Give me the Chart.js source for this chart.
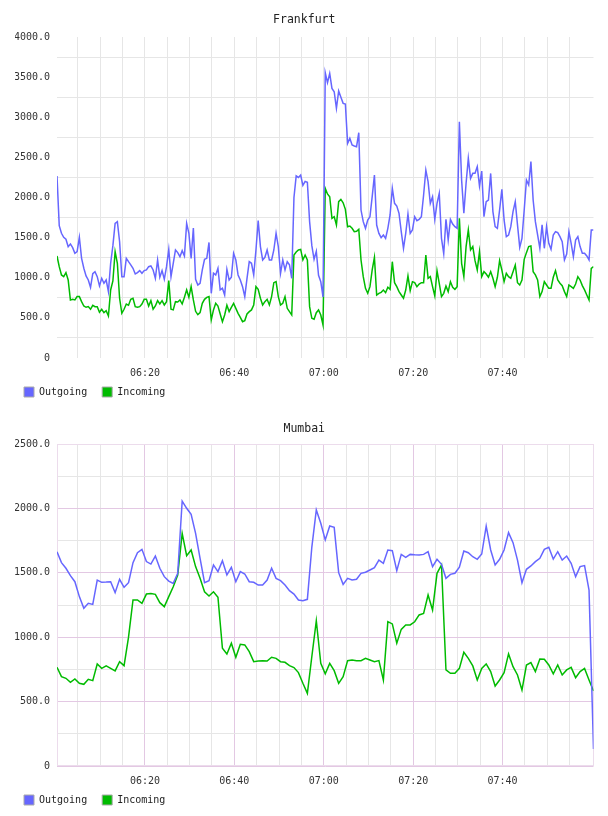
<!DOCTYPE html>
<html lang="en">
<head>
<meta charset="UTF-8">
<title>Frankfurt / Mumbai traffic</title>
<script src="https://cdn.jsdelivr.net/npm/chart.js@4.4.1/dist/chart.umd.min.js"></script>
<style>
  html, body { margin: 0; padding: 0; background: #fff; }
  #wrap { position: relative; width: 608px; height: 816px; }
  canvas { position: absolute; left: 0; }
</style>
</head>
<body>
<div id="wrap">
  <canvas id="frankfurt" width="608" height="409" style="top:0"></canvas>
  <canvas id="mumbai" width="608" height="408" style="top:408px"></canvas>
</div>
<script>
// time axis, minutes after midnight
const startMinute = 360 + 20 / 60;   // 06:00:20
const endMinute = 480 + 20 / 60;     // 08:00:20
const gridMinutes = [365, 370, 375, 380, 385, 390, 395, 400, 405, 410, 415, 420,
  425, 430, 435, 440, 445, 450, 455, 460, 465, 470, 475];
const labelMinutes = [380, 400, 420, 440, 460];
const tickLabels = ['06:20', '06:40', '07:00', '07:20', '07:40'];

// Frankfurt, one sample every 30 s
const frankfurtOutgoing = [
  2268, 1650, 1554, 1504, 1480, 1388, 1421, 1375, 1305, 1325, 1504, 1242, 1118, 1022, 972, 880,
  1050, 1076, 1014, 898, 993, 931, 972, 827, 1180, 1400, 1678, 1700, 1450, 1014, 1014, 1242,
  1200, 1160, 1118, 1047, 1064, 1089, 1056, 1089, 1097, 1138, 1147, 1097, 993, 1222, 1006, 1089,
  981, 1138, 1354, 1014, 1180, 1346, 1313, 1263, 1338, 1271, 1678, 1554, 1242, 1620, 981, 910,
  931, 1097, 1230, 1242, 1440, 806, 1056, 1035, 1118, 848, 869, 785, 1105, 972, 1006, 1305,
  1222, 1035, 972, 889, 765, 993, 1200, 1180, 1035, 1346, 1712, 1388, 1222, 1255, 1346, 1222,
  1222, 1346, 1554, 1388, 1056, 1222, 1097, 1200, 1160, 993, 2000, 2270, 2250, 2280, 2150, 2200,
  2190, 1700, 1400, 1230, 1330, 1030, 950, 760, 3555, 3430, 3547, 3360, 3318, 3111, 3327, 3248,
  3173, 3165, 2675, 2737, 2654, 2642, 2633, 2808, 1844, 1699, 1616, 1720, 1761, 2010, 2280, 1657,
  1553, 1499, 1533, 1491, 1616, 1782, 2114, 1927, 1894, 1803, 1574, 1366, 1553, 1794, 1553, 1595,
  1761, 1711, 1728, 1761, 2031, 2342, 2197, 1927, 2010, 1728, 1927, 2052, 1491, 1300, 1728, 1470,
  1728, 1670, 1636, 1616, 2945, 2218, 1803, 2177, 2488, 2239, 2301, 2301, 2384, 2144, 2330, 1761,
  1948, 1969, 2300, 1824, 1637, 1616, 1845, 2102, 1720, 1512, 1533, 1637, 1824, 1948, 1658, 1379,
  1491, 1845, 2218, 2156, 2447, 1969, 1699, 1533, 1367, 1658, 1367, 1637, 1429, 1354, 1533, 1574,
  1562, 1512, 1450, 1222, 1296, 1574, 1429, 1263, 1470, 1512, 1388, 1305, 1305, 1271, 1222, 1595,
  1595
];
const frankfurtIncoming = [
  1271, 1138, 1035, 1014, 1064, 972, 723, 731, 723, 765, 765, 702, 648, 632, 640, 607,
  657, 640, 640, 570, 607, 565, 590, 524, 848, 960, 1325, 1180, 744, 557, 607, 673,
  657, 731, 744, 640, 632, 640, 673, 731, 731, 648, 715, 607, 648, 715, 673, 715,
  661, 702, 964, 607, 599, 702, 698, 723, 673, 756, 848, 756, 889, 723, 582, 540,
  565, 681, 731, 756, 765, 474, 599, 681, 648, 549, 453, 536, 657, 578, 632, 681,
  619, 557, 507, 453, 466, 549, 578, 599, 661, 889, 856, 744, 661, 702, 731, 661,
  765, 939, 952, 765, 661, 681, 765, 619, 578, 536, 1284, 1321, 1346, 1354, 1222, 1284,
  1222, 640, 495, 482, 565, 599, 536, 412, 2114, 2044, 2010, 1740, 1761, 1657, 1948, 1977,
  1935, 1852, 1636, 1645, 1616, 1574, 1578, 1603, 1221, 1014, 868, 806, 889, 1097, 1254, 785,
  806, 818, 847, 814, 881, 856, 1200, 939, 889, 827, 785, 744, 847, 1022, 839, 951,
  939, 889, 922, 939, 939, 1284, 993, 1014, 889, 773, 1089, 931, 765, 806, 897, 827,
  951, 881, 856, 889, 1740, 1180, 1014, 1388, 1595, 1346, 1388, 1213, 1097, 1325, 1014, 1076,
  1047, 1006, 1076, 993, 889, 1006, 1213, 1097, 952, 1055, 1014, 993, 1076, 1159, 939, 910,
  972, 1230, 1313, 1388, 1396, 1076, 1035, 972, 765, 827, 952, 910, 868, 868, 1006, 1089,
  972, 931, 902, 827, 765, 910, 889, 868, 922, 1014, 972, 902, 848, 785, 723, 1118,
  1138
];

// Mumbai, one sample per minute
const mumbaiOutgoing = [
  1664, 1579, 1535, 1478, 1431, 1315, 1224, 1263, 1255, 1444, 1426, 1428, 1431, 1346, 1449, 1387,
  1423, 1579, 1656, 1682, 1587, 1568, 1630, 1535, 1470, 1436, 1418, 1496, 2057, 2001, 1954, 1806,
  1612, 1423, 1439, 1561, 1509, 1594, 1483, 1542, 1431, 1509, 1491, 1431, 1426, 1405, 1405, 1444,
  1535, 1457, 1439, 1405, 1361, 1335, 1289, 1284, 1294, 1700, 1988, 1884, 1755, 1863, 1853, 1501,
  1410, 1457, 1444, 1450, 1496, 1504, 1522, 1540, 1599, 1574, 1677, 1672, 1517, 1643, 1620, 1643,
  1640, 1638, 1643, 1664, 1548, 1605, 1566, 1457, 1488, 1496, 1543, 1669, 1656, 1625, 1605, 1646,
  1863, 1677, 1561, 1605, 1677, 1812, 1734, 1599, 1423, 1527, 1553, 1587, 1612, 1682, 1698, 1607,
  1664, 1599, 1630, 1574, 1470, 1548, 1556, 1366, 132
];
const mumbaiIncoming = [
  766, 694, 681, 650, 676, 642, 634, 673, 663, 792, 758, 777, 758, 738, 810, 779,
  1000, 1289, 1289, 1263, 1335, 1340, 1333, 1268, 1237, 1315, 1392, 1483, 1806, 1633, 1677, 1548,
  1457, 1353, 1320, 1353, 1310, 914, 870, 953, 844, 945, 940, 888, 810, 815, 818, 815,
  844, 836, 810, 805, 779, 764, 725, 642, 564, 850, 1128, 797, 715, 797, 740, 642,
  694, 818, 823, 818, 818, 836, 823, 810, 818, 668, 1121, 1103, 953, 1061, 1095, 1095,
  1120, 1173, 1185, 1328, 1211, 1496, 1561, 746, 720, 720, 758, 883, 836, 777, 668, 758,
  792, 733, 621, 668, 725, 870, 771, 707, 590, 784, 803, 733, 831, 829, 784, 715,
  784, 707, 746, 766, 686, 733, 758, 668, 583
];

const frankfurtTimes = frankfurtOutgoing.map((_, i) => startMinute + i * 0.5);
const mumbaiTimes = mumbaiOutgoing.map((_, i) => startMinute + i);

const outColor = '#6666ff';
const inColor = '#00bb00';
const monoFont = 'DejaVu Sans Mono';
const tickFont = { family: monoFont, size: 10 };

// thin frame round the plot (Mumbai only)
const plotFrame = {
  id: 'plotFrame',
  beforeDatasetsDraw(chart, args, opts) {
    if (!opts.color) return;
    const a = chart.chartArea;
    const ctx = chart.ctx;
    ctx.save();
    ctx.strokeStyle = opts.color;
    ctx.lineWidth = 1;
    ctx.strokeRect(Math.round(a.left) + 0.5, Math.round(a.top) + 0.5,
      Math.round(a.right - a.left) - 1, Math.round(a.bottom - a.top) - 1);
    ctx.restore();
  }
};

function makeChart(id, title, times, outgoing, incoming, yMax, opts) {
  const toPoints = vals => vals.map((v, i) => ({ x: times[i], y: v }));
  return new Chart(document.getElementById(id), {
    type: 'line',
    data: {
      datasets: [
        { label: 'Outgoing', data: toPoints(outgoing), borderColor: outColor, backgroundColor: outColor,
          borderWidth: 1.5, pointRadius: 0, tension: 0, fill: false },
        { label: 'Incoming', data: toPoints(incoming), borderColor: inColor, backgroundColor: inColor,
          borderWidth: 1.5, pointRadius: 0, tension: 0, fill: false }
      ]
    },
    options: {
      responsive: false,
      animation: false,
      layout: { padding: { left: 15, right: 14.5, top: 0, bottom: opts.padBottom } },
      scales: {
        x: {
          type: 'linear',
          min: startMinute,
          max: endMinute,
          afterBuildTicks: axis => { axis.ticks = gridMinutes.map(v => ({ value: v })); },
          afterFit: axis => { axis.height = 20; },
          ticks: {
            autoSkip: false, maxRotation: 0, padding: 9, color: '#333', font: tickFont,
            callback: v => {
              const i = labelMinutes.indexOf(v);
              return i >= 0 ? tickLabels[i] : '';
            }
          },
          grid: { drawTicks: false, tickLength: 0, color: opts.xGrid },
          border: { display: false }
        },
        y: {
          min: 0,
          max: yMax,
          afterFit: axis => { axis.width = 42; },
          ticks: {
            stepSize: 250, autoSkip: false, padding: 7, color: '#333', font: tickFont,
            callback: v => (v % 500 !== 0 ? '' : (v === 0 ? '0' : v.toFixed(1)))
          },
          grid: { drawTicks: false, tickLength: 0, color: opts.yGrid },
          border: { display: false }
        }
      },
      plugins: {
        title: {
          display: true, text: title, color: '#222',
          font: { family: monoFont, size: 11.5, weight: 'normal', lineHeight: 1.2 },
          padding: opts.titlePad
        },
        legend: {
          position: 'bottom',
          align: 'start',
          labels: {
            boxWidth: 10, boxHeight: 10, padding: 9, color: '#222',
            font: { family: monoFont, size: 10 },
            // trailing space widens the gap between the two entries
            generateLabels: chart => chart.data.datasets.map((ds, i) => ({
              text: ds.label + ' ', fillStyle: ds.borderColor, strokeStyle: '#aaaaaa',
              lineWidth: 1, hidden: false, datasetIndex: i, fontColor: '#222'
            }))
          }
        },
        tooltip: { enabled: false },
        plotFrame: { color: opts.frame }
      }
    },
    plugins: [plotFrame]
  });
}

const gray = '#e6e6e6';
const purple = '#e3c8e3';

makeChart('frankfurt', 'Frankfurt', frankfurtTimes, frankfurtOutgoing, frankfurtIncoming, 4000, {
  padBottom: 2,
  titlePad: { top: 13.3, bottom: 9.9 },
  xGrid: gray,
  yGrid: ctx => (ctx.tick && ctx.tick.value % 500 === 0 ? 'rgba(0,0,0,0)' : gray),
  frame: null
});

makeChart('mumbai', 'Mumbai', mumbaiTimes, mumbaiOutgoing, mumbaiIncoming, 2500, {
  padBottom: 1,
  titlePad: { top: 14.3, bottom: 7.9 },
  xGrid: ctx => (ctx.tick && ctx.tick.value % 20 === 0 ? purple : gray),
  yGrid: ctx => (ctx.tick && ctx.tick.value % 500 === 0 ? purple : gray),
  frame: '#ecdcec'
});
</script>
</body>
</html>
